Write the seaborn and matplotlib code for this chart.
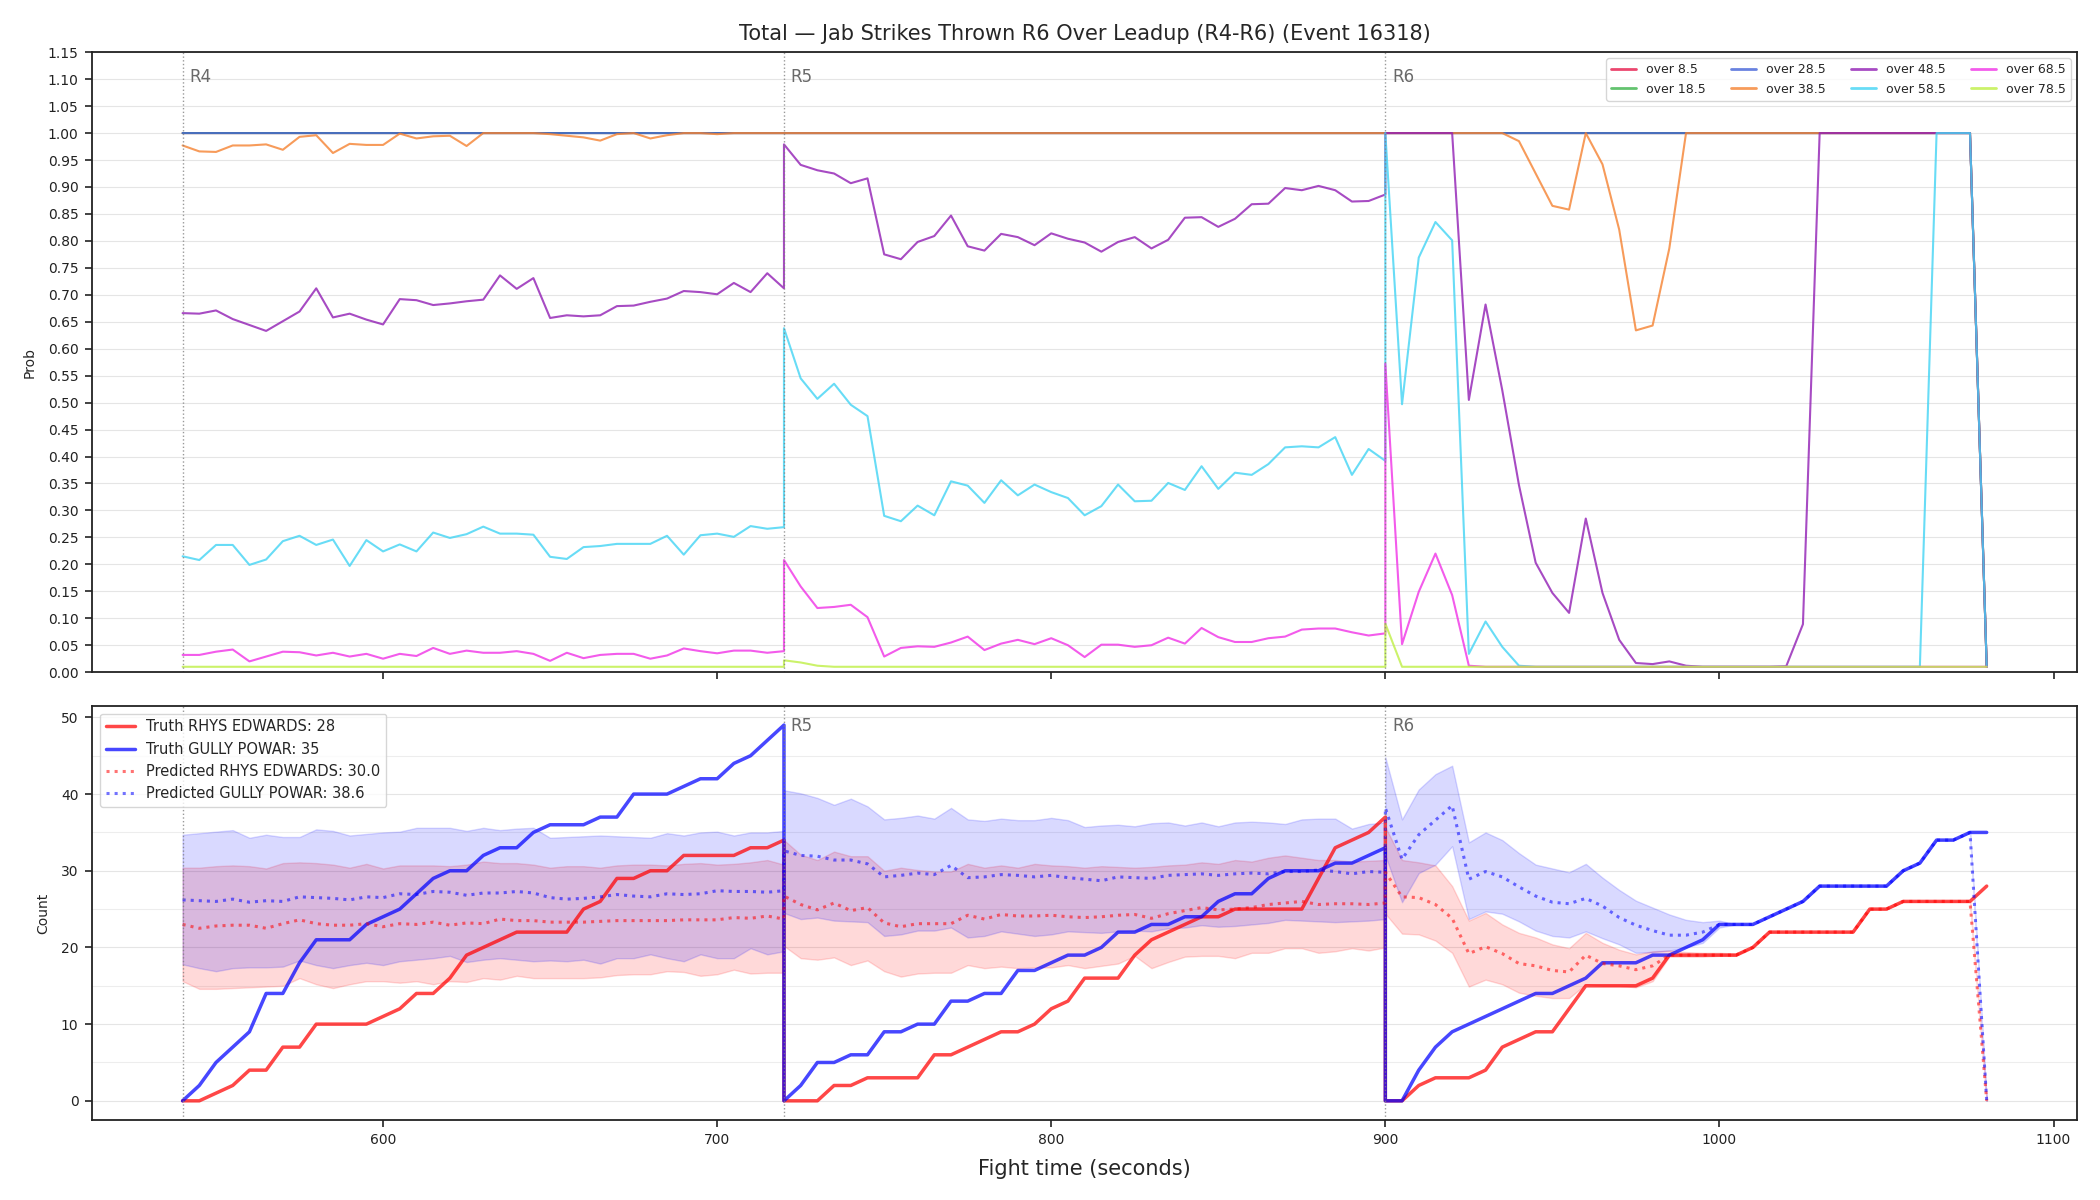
import pandas as pd
import numpy as np
import matplotlib
matplotlib.use("Agg")
import matplotlib.pyplot as plt
from matplotlib.ticker import MultipleLocator
import seaborn as sns

# 时间轴：每回合 37 个点（每 5 秒一个），回合交界处重复一次
t_r4 = list(range(540, 721, 5))
t_r5 = list(range(720, 901, 5))
t_r6 = list(range(900, 1081, 5))
rounds = [(540, "R4"), (720, "R5"), (900, "R6")]

# ---------------- 上图：各盘口 over 概率 ----------------
line_names = ["over 8.5", "over 18.5", "over 28.5", "over 38.5",
              "over 48.5", "over 58.5", "over 68.5", "over 78.5"]
line_colors = ["#e6194b", "#3cb44b", "#4363d8", "#f58231",
               "#911eb4", "#42d4f4", "#f032e6", "#bfef45"]

flat_r4 = [1.0] * 37
flat_r5 = [1.0] * 37
flat_r6 = [1.0] * 36 + [0.01]

orange_r4 = [0.977, 0.966, 0.965, 0.977, 0.977, 0.979, 0.969, 0.993, 0.996, 0.963,
             0.980, 0.978, 0.978, 0.999, 0.990, 0.994, 0.995, 0.976, 1.0, 1.0,
             1.0, 1.0, 0.998, 0.995, 0.992, 0.986, 0.998, 1.0, 0.990, 0.996,
             1.0, 1.0, 0.998, 1.0, 1.0, 1.0, 1.0]
orange_r5 = [1.0] * 37
orange_r6 = [1.0, 1.0, 1.0, 1.0, 1.0, 1.0, 1.0, 1.0, 0.985, 0.925,
             0.865, 0.858, 1.0, 0.942, 0.821, 0.634, 0.643, 0.786, 1.0] + [1.0] * 17 + [0.01]

purple_r4 = [0.666, 0.665, 0.671, 0.655, 0.644, 0.633, 0.651, 0.669, 0.712, 0.658,
             0.665, 0.654, 0.645, 0.692, 0.690, 0.681, 0.684, 0.688, 0.691, 0.736,
             0.711, 0.731, 0.657, 0.662, 0.660, 0.662, 0.679, 0.680, 0.687, 0.693,
             0.707, 0.705, 0.701, 0.722, 0.705, 0.740, 0.712]
purple_r5 = [0.979, 0.941, 0.931, 0.925, 0.907, 0.916, 0.775, 0.766, 0.798, 0.809,
             0.847, 0.790, 0.782, 0.813, 0.807, 0.792, 0.814, 0.804, 0.797, 0.780,
             0.798, 0.807, 0.786, 0.802, 0.843, 0.844, 0.826, 0.841, 0.868, 0.869,
             0.898, 0.894, 0.902, 0.894, 0.873, 0.874, 0.886]
purple_r6 = [1.0, 1.0, 1.0, 1.0, 1.0, 0.505, 0.682, 0.523, 0.347, 0.203,
             0.147, 0.110, 0.285, 0.147, 0.060, 0.017, 0.015, 0.020, 0.012, 0.01,
             0.01, 0.01, 0.01, 0.01, 0.011, 0.089] + [1.0] * 10 + [0.01]

cyan_r4 = [0.215, 0.208, 0.236, 0.236, 0.199, 0.209, 0.243, 0.253, 0.236, 0.246,
           0.197, 0.245, 0.224, 0.237, 0.224, 0.259, 0.249, 0.256, 0.270, 0.257,
           0.257, 0.255, 0.214, 0.210, 0.232, 0.234, 0.238, 0.238, 0.238, 0.253,
           0.218, 0.254, 0.257, 0.251, 0.271, 0.266, 0.269]
cyan_r5 = [0.638, 0.545, 0.507, 0.535, 0.496, 0.475, 0.290, 0.280, 0.309, 0.291,
           0.354, 0.346, 0.314, 0.356, 0.328, 0.348, 0.334, 0.323, 0.291, 0.308,
           0.348, 0.317, 0.318, 0.351, 0.338, 0.382, 0.340, 0.370, 0.366, 0.386,
           0.417, 0.419, 0.417, 0.436, 0.366, 0.414, 0.392]
cyan_r6 = [1.0, 0.497, 0.769, 0.835, 0.801, 0.034, 0.094, 0.047, 0.012] + [0.01] * 24 + [1.0, 1.0, 1.0, 0.01]

magenta_r4 = [0.032, 0.032, 0.038, 0.042, 0.020, 0.029, 0.038, 0.037, 0.031, 0.036,
              0.029, 0.034, 0.025, 0.034, 0.030, 0.045, 0.034, 0.040, 0.036, 0.036,
              0.039, 0.034, 0.021, 0.036, 0.026, 0.032, 0.034, 0.034, 0.025, 0.031,
              0.044, 0.039, 0.035, 0.040, 0.040, 0.036, 0.039]
magenta_r5 = [0.208, 0.159, 0.119, 0.121, 0.125, 0.102, 0.029, 0.045, 0.048, 0.047,
              0.055, 0.066, 0.041, 0.053, 0.060, 0.052, 0.063, 0.050, 0.028, 0.051,
              0.051, 0.047, 0.050, 0.064, 0.053, 0.082, 0.065, 0.056, 0.056, 0.063,
              0.066, 0.079, 0.081, 0.081, 0.074, 0.068, 0.072]
magenta_r6 = [0.572, 0.052, 0.149, 0.220, 0.143, 0.012] + [0.01] * 31

lime_r4 = [0.01] * 37
lime_r5 = [0.022, 0.018, 0.012] + [0.01] * 34
lime_r6 = [0.09] + [0.01] * 36

probs = {
    "over 8.5": flat_r4 + flat_r5 + flat_r6,
    "over 18.5": flat_r4 + flat_r5 + flat_r6,
    "over 28.5": flat_r4 + flat_r5 + flat_r6,
    "over 38.5": orange_r4 + orange_r5 + orange_r6,
    "over 48.5": purple_r4 + purple_r5 + purple_r6,
    "over 58.5": cyan_r4 + cyan_r5 + cyan_r6,
    "over 68.5": magenta_r4 + magenta_r5 + magenta_r6,
    "over 78.5": lime_r4 + lime_r5 + lime_r6,
}

# ---------------- 下图：真实计数与预测 ----------------
truth_red_r4 = [0, 0, 1, 2, 4, 4, 7, 7, 10, 10, 10, 10, 11, 12, 14, 14, 16, 19, 20, 21,
                22, 22, 22, 22, 25, 26, 29, 29, 30, 30, 32, 32, 32, 32, 33, 33, 34]
truth_red_r5 = [0, 0, 0, 2, 2, 3, 3, 3, 3, 6, 6, 7, 8, 9, 9, 10, 12, 13, 16, 16,
                16, 19, 21, 22, 23, 24, 24, 25, 25, 25, 25, 25, 29, 33, 34, 35, 37]
truth_red_r6 = [0, 0, 2, 3, 3, 3, 4, 7, 8, 9, 9, 12, 15, 15, 15, 15, 16, 19, 19, 19,
                19, 19, 20, 22, 22, 22, 22, 22, 22, 25, 25, 26, 26, 26, 26, 26, 28]

truth_blue_r4 = [0, 2, 5, 7, 9, 14, 14, 18, 21, 21, 21, 23, 24, 25, 27, 29, 30, 30, 32, 33,
                 33, 35, 36, 36, 36, 37, 37, 40, 40, 40, 41, 42, 42, 44, 45, 47, 49]
truth_blue_r5 = [0, 2, 5, 5, 6, 6, 9, 9, 10, 10, 13, 13, 14, 14, 17, 17, 18, 19, 19, 20,
                 22, 22, 23, 23, 24, 24, 26, 27, 27, 29, 30, 30, 30, 31, 31, 32, 33]
truth_blue_r6 = [0, 0, 4, 7, 9, 10, 11, 12, 13, 14, 14, 15, 16, 18, 18, 18, 19, 19, 20, 21,
                 23, 23, 23, 24, 25, 26, 28, 28, 28, 28, 28, 30, 31, 34, 34, 35, 35]

pred_red_r4 = [23.0, 22.5, 22.8, 22.9, 22.9, 22.5, 23.1, 23.6, 23.1, 22.9,
               22.9, 23.1, 22.7, 23.1, 23.0, 23.3, 22.9, 23.2, 23.1, 23.7,
               23.5, 23.5, 23.3, 23.3, 23.3, 23.4, 23.5, 23.5, 23.5, 23.5,
               23.6, 23.6, 23.6, 23.9, 23.8, 24.1, 23.7]
pred_red_r5 = [26.7, 25.6, 24.9, 25.8, 24.8, 25.2, 23.2, 22.7, 23.1, 23.1,
               23.1, 24.2, 23.7, 24.3, 24.1, 24.1, 24.2, 24.0, 23.9, 24.0,
               24.2, 24.3, 23.8, 24.4, 24.8, 25.2, 24.9, 25.0, 25.2, 25.6,
               25.8, 26.0, 25.6, 25.7, 25.7, 25.6, 25.8]
pred_red_r6 = [29.8, 26.6, 26.5, 25.6, 23.8, 19.2, 20.1, 19.2, 17.9, 17.6,
               17.0, 16.8, 19.0, 17.9, 17.6, 17.1, 17.6,
               19, 19, 19, 19, 19, 20, 22, 22, 22, 22, 22, 22, 25, 25, 26, 26, 26, 26, 26, 0]

pred_blue_r4 = [26.2, 26.1, 26.0, 26.3, 25.9, 26.1, 26.0, 26.6, 26.5, 26.4,
                26.2, 26.6, 26.5, 27.0, 26.9, 27.3, 27.2, 26.8, 27.1, 27.1,
                27.3, 27.1, 26.5, 26.3, 26.4, 26.6, 26.9, 26.7, 26.6, 27.0,
                26.9, 27.0, 27.4, 27.3, 27.3, 27.2, 27.4]
pred_blue_r5 = [32.6, 32.0, 31.9, 31.4, 31.4, 30.9, 29.2, 29.4, 29.7, 29.5,
                30.7, 29.1, 29.2, 29.5, 29.4, 29.2, 29.4, 29.1, 28.9, 28.7,
                29.2, 29.1, 29.0, 29.4, 29.5, 29.6, 29.4, 29.6, 29.7, 29.6,
                29.9, 29.9, 30.1, 29.9, 29.6, 29.9, 29.8]
pred_blue_r6 = [38.2, 31.5, 34.7, 36.6, 38.5, 28.9, 29.9, 29.2, 27.9, 26.7,
                25.9, 25.7, 26.4, 25.4, 23.9, 22.9, 22.2, 21.6, 21.6, 22.0,
                23, 23, 23, 24, 25, 26, 28, 28, 28, 28, 28, 30, 31, 34, 34, 35, 0]

red_hi_r4 = [30.4, 30.4, 30.6, 30.7, 30.6, 30.3, 31.0, 31.1, 31.0, 30.8,
             30.4, 30.9, 30.3, 30.7, 30.7, 30.7, 30.6, 30.8, 31.2, 31.0,
             31.0, 30.8, 30.4, 30.6, 30.6, 30.4, 30.7, 30.8, 30.8, 30.7,
             30.9, 31.0, 30.8, 30.9, 31.1, 31.4, 30.8]
red_lo_r4 = [15.6, 14.6, 14.6, 14.7, 14.8, 14.9, 15.0, 16.0, 15.2, 14.7,
             15.2, 15.6, 15.6, 15.4, 15.6, 15.2, 15.6, 15.5, 16.0, 15.8,
             16.3, 16.0, 16.0, 16.0, 16.0, 16.1, 16.4, 16.5, 16.5, 16.9,
             16.8, 16.3, 16.5, 17.1, 16.6, 16.7, 16.7]
red_hi_r5 = [34.0, 32.1, 31.4, 32.5, 31.9, 31.9, 30.0, 30.4, 30.1, 29.9,
             29.9, 30.9, 30.4, 30.7, 30.4, 30.9, 30.7, 30.6, 30.4, 30.6,
             30.5, 30.4, 30.5, 30.7, 30.8, 31.1, 30.9, 31.4, 31.2, 31.7,
             32.0, 31.7, 31.4, 31.4, 31.2, 31.3, 31.4]
red_lo_r5 = [20.2, 18.6, 18.4, 18.7, 17.7, 18.3, 16.9, 16.2, 16.6, 16.7,
             16.7, 17.7, 17.3, 17.5, 17.3, 17.4, 17.4, 17.7, 17.3, 17.6,
             17.9, 18.9, 17.3, 18.1, 18.8, 18.9, 18.9, 18.6, 19.3, 19.3,
             19.9, 19.9, 19.3, 19.5, 19.9, 19.6, 20.0]
red_hi_r6 = [35.7, 31.4, 31.1, 30.7, 28.0, 23.5, 24.5, 23.0, 21.9, 21.3,
             20.4, 19.9, 21.9, 20.6, 19.7, 19.1, 19.5, 19.6, 19.4, 19.3,
             19.3, 19.2] + pred_red_r6[22:]
red_lo_r6 = [24.4, 21.8, 21.7, 20.9, 19.3, 14.9, 15.8, 15.2, 14.1, 13.7,
             13.4, 13.4, 15.2, 15.0, 15.0, 14.8, 15.6, 18.8, 18.8, 18.8,
             18.9, 18.9] + pred_red_r6[22:]

blue_hi_r4 = [34.7, 34.9, 35.1, 35.3, 34.3, 34.7, 34.4, 34.4, 35.4, 35.2,
              34.6, 34.8, 35.0, 35.1, 35.6, 35.6, 35.6, 35.2, 35.6, 35.3,
              35.5, 35.6, 34.3, 34.4, 34.5, 34.6, 34.5, 34.4, 34.3, 34.9,
              34.6, 35.0, 35.1, 34.6, 35.0, 35.0, 35.2]
blue_lo_r4 = [17.8, 17.3, 16.9, 17.3, 17.4, 17.4, 17.5, 18.3, 17.7, 17.3,
              17.7, 18.0, 17.7, 18.2, 18.4, 18.6, 18.9, 18.1, 18.4, 18.6,
              18.4, 18.2, 18.3, 18.2, 18.4, 17.9, 18.6, 18.6, 19.1, 18.6,
              18.2, 19.1, 18.6, 18.6, 19.9, 19.1, 19.5]
blue_hi_r5 = [40.5, 40.1, 39.5, 38.6, 39.4, 38.4, 36.7, 36.9, 37.2, 36.8,
              38.2, 36.7, 36.5, 36.8, 36.6, 36.6, 36.9, 36.6, 35.7, 35.9,
              36.0, 35.8, 36.2, 36.3, 35.9, 36.3, 35.8, 36.3, 36.4, 36.3,
              36.1, 36.7, 36.8, 36.8, 35.5, 36.1, 36.3]
blue_lo_r5 = [24.5, 23.7, 23.9, 23.5, 23.4, 23.3, 21.5, 21.7, 22.2, 22.2,
              22.6, 21.3, 21.5, 22.1, 21.8, 21.5, 21.7, 22.1, 22.0, 21.9,
              22.1, 22.2, 22.1, 22.5, 22.6, 22.9, 22.7, 22.8, 23.0, 23.2,
              23.6, 23.5, 23.4, 23.3, 23.4, 23.5, 23.7]
blue_hi_r6 = [44.8, 36.7, 40.6, 42.6, 43.7, 33.7, 35.0, 34.0, 32.3, 30.8,
              30.3, 29.8, 30.9, 29.1, 27.5, 26.1, 25.2, 24.3, 23.6, 23.3,
              23.5] + pred_blue_r6[21:]
blue_lo_r6 = [32.0, 25.9, 29.7, 30.8, 33.2, 23.7, 24.7, 24.4, 23.4, 22.2,
              21.5, 21.3, 22.1, 21.2, 20.4, 19.3, 19.4, 19.6, 20.0, 20.6,
              22.6] + pred_blue_r6[21:]

red_name = "RHYS EDWARDS"
blue_name = "GULLY POWAR"
final_truth_red, final_truth_blue = 28, 35
final_pred_red, final_pred_blue = 30.0, 38.6

# 拼接三个回合
t_all = t_r4 + t_r5 + t_r6
prob_df = pd.DataFrame({
    "t": t_all * len(line_names),
    "p": sum([probs[n] for n in line_names], []),
    "line": sum([[n] * len(t_all) for n in line_names], []),
})

truth_red = truth_red_r4 + truth_red_r5 + truth_red_r6
truth_blue = truth_blue_r4 + truth_blue_r5 + truth_blue_r6
pred_red = pred_red_r4 + pred_red_r5 + pred_red_r6
pred_blue = pred_blue_r4 + pred_blue_r5 + pred_blue_r6
red_lo = red_lo_r4 + red_lo_r5 + red_lo_r6
red_hi = red_hi_r4 + red_hi_r5 + red_hi_r6
blue_lo = blue_lo_r4 + blue_lo_r5 + blue_lo_r6
blue_hi = blue_hi_r4 + blue_hi_r5 + blue_hi_r6

# 样式
sns.set_style("ticks")
plt.rcParams["font.family"] = ["DejaVu Sans"]
plt.rcParams["axes.edgecolor"] = "#222222"
plt.rcParams["axes.linewidth"] = 1.3
plt.rcParams["xtick.color"] = "#222222"
plt.rcParams["ytick.color"] = "#222222"
plt.rcParams["xtick.major.size"] = 5
plt.rcParams["ytick.major.size"] = 5
plt.rcParams["xtick.major.width"] = 1.2
plt.rcParams["ytick.major.width"] = 1.2
plt.rcParams["xtick.major.pad"] = 5
plt.rcParams["ytick.major.pad"] = 5

fig, (ax1, ax2) = plt.subplots(2, 1, figsize=(21, 12), dpi=100, sharex=True,
                               gridspec_kw={"height_ratios": [3, 2]})
fig.subplots_adjust(left=0.044, right=0.989, top=0.9565, bottom=0.067, hspace=0.066)

# 上图
palette = dict(zip(line_names, line_colors))
sns.lineplot(data=prob_df, x="t", y="p", hue="line", hue_order=line_names,
             palette=palette, estimator=None, sort=False, alpha=0.8,
             linewidth=1.5, ax=ax1)
ax1.set_ylim(0, 1.15)
ax1.yaxis.set_major_locator(MultipleLocator(0.05))
ax1.set_ylabel("Prob", fontsize=10, labelpad=8)
ax1.set_xlabel("")
ax1.grid(True, axis="y", color="#cccccc", alpha=0.5, linewidth=0.8)
ax1.set_title("Total \u2014 Jab Strikes Thrown R6 Over Leadup (R4-R6) (Event 16318)",
              fontsize=15, pad=9)
h, l = ax1.get_legend_handles_labels()
leg = ax1.legend(h, l, loc="upper right", ncol=4, fontsize=9)
for line in leg.get_lines():
    line.set_linewidth(2)

# 下图
ax2.fill_between(t_all, red_lo, red_hi, color="red", alpha=0.15)
ax2.fill_between(t_all, blue_lo, blue_hi, color="blue", alpha=0.15)
sns.lineplot(x=t_all, y=truth_red, color="red", alpha=0.72, linewidth=2.5,
             estimator=None, sort=False, ax=ax2,
             label=f"Truth {red_name}: {final_truth_red}")
sns.lineplot(x=t_all, y=truth_blue, color="blue", alpha=0.72, linewidth=2.5,
             estimator=None, sort=False, ax=ax2,
             label=f"Truth {blue_name}: {final_truth_blue}")
sns.lineplot(x=t_all, y=pred_red, color="red", alpha=0.55, linewidth=2.2,
             linestyle=":", estimator=None, sort=False, ax=ax2,
             label=f"Predicted {red_name}: {final_pred_red:.1f}")
sns.lineplot(x=t_all, y=pred_blue, color="blue", alpha=0.55, linewidth=2.2,
             linestyle=":", estimator=None, sort=False, ax=ax2,
             label=f"Predicted {blue_name}: {final_pred_blue:.1f}")
ax2.yaxis.set_major_locator(MultipleLocator(10))
ax2.yaxis.set_minor_locator(MultipleLocator(5))
ax2.tick_params(axis="y", which="minor", length=0)
ax2.grid(True, which="major", axis="y", color="#cccccc", alpha=0.5, linewidth=0.8)
ax2.grid(True, which="minor", axis="y", color="#cccccc", alpha=0.35, linewidth=0.8)
ax2.set_ylabel("Count", fontsize=10, labelpad=8)
ax2.set_xlabel("Fight time (seconds)", fontsize=15, labelpad=8)
ax2.legend(loc="upper left", fontsize=10.5)

# 回合分界线（下图的 R4 标签被图例挡住，不画）
for ax in (ax1, ax2):
    for x, name in rounds:
        ax.axvline(x, color="gray", linestyle=":", linewidth=1, alpha=0.8)
        if ax is ax2 and name == "R4":
            continue
        ax.text(x + 2, 0.975, name, transform=ax.get_xaxis_transform(),
                va="top", ha="left", fontsize=12, color="dimgray", zorder=1)

fig.savefig("out.png", dpi=100)
